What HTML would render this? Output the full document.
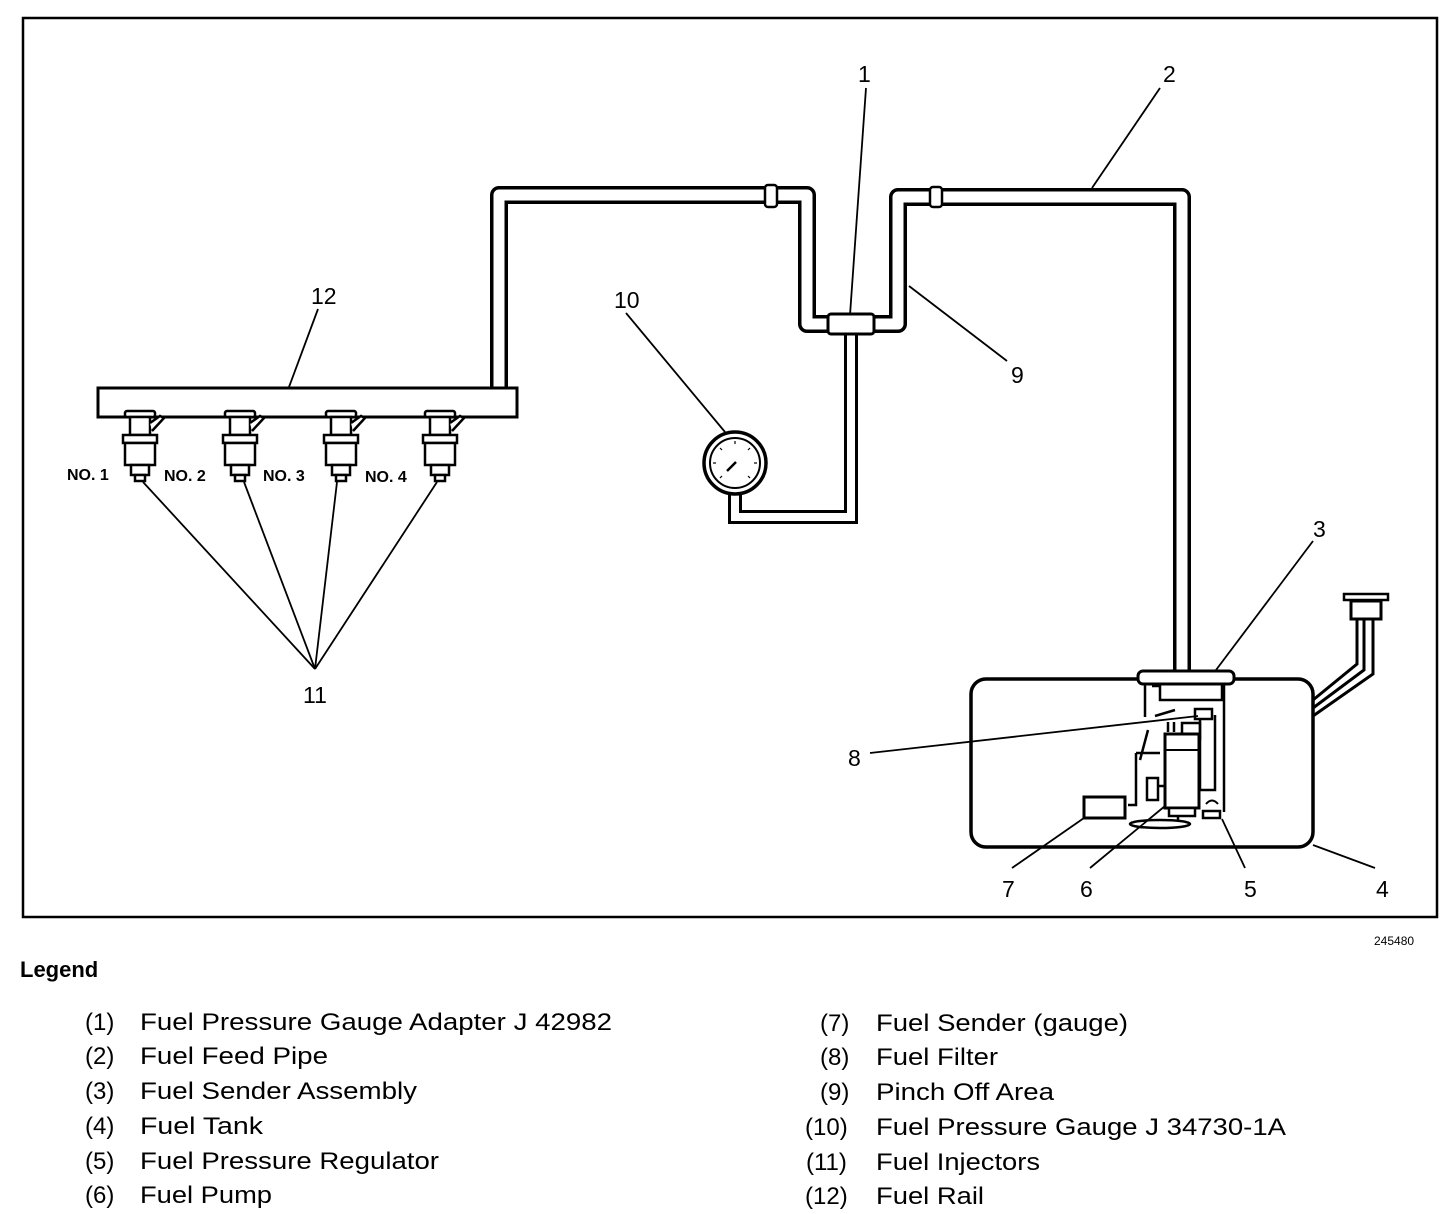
<!DOCTYPE html>
<html><head><meta charset="utf-8"><style>
html,body{margin:0;padding:0;background:#fff}
svg{display:block}
text{font-family:"Liberation Sans",Arial,sans-serif;fill:#000}
</style></head><body>
<svg width="1456" height="1214" viewBox="0 0 1456 1214" xmlns="http://www.w3.org/2000/svg">
<defs>
<g id="inj" fill="#fff" stroke="#000" stroke-width="2.5">
  <rect x="-15" y="-4" width="30" height="6" rx="2"/>
  <rect x="-10" y="2" width="20" height="18"/>
  <path d="M10 8 L20 1 L24 3 L12 16" />
  <rect x="-17" y="20" width="34" height="8"/>
  <rect x="-15" y="28" width="30" height="22"/>
  <rect x="-9" y="50" width="18" height="10"/>
  <rect x="-5" y="60" width="10" height="6"/>
</g>
</defs>
<rect x="23" y="18" width="1414" height="899" fill="none" stroke="#000" stroke-width="2.5"/>

<g fill="none" stroke-linejoin="round">
  <path d="M499 390 V195 H807 V324 H835 M870 324 H898 V197 H1182 V672" stroke="#000" stroke-width="18"/>
  <path d="M499 390 V195 H807 V324 H835 M870 324 H898 V197 H1182 V672" stroke="#fff" stroke-width="11"/>
  <path d="M851 334 V517 H735 V494" stroke="#000" stroke-width="14" stroke-linejoin="miter"/>
  <path d="M851 334 V517 H735 V494" stroke="#fff" stroke-width="8" stroke-linejoin="miter"/>
</g>
<rect x="765" y="185" width="12" height="22" rx="3" fill="#fff" stroke="#000" stroke-width="2.5"/>
<rect x="930" y="187" width="12" height="20" rx="3" fill="#fff" stroke="#000" stroke-width="2.5"/>
<rect x="828" y="314" width="46" height="20" rx="3" fill="#fff" stroke="#000" stroke-width="3"/>

<circle cx="735" cy="463" r="31" fill="#fff" stroke="#000" stroke-width="3.5"/>
<circle cx="735" cy="463" r="25" fill="#fff" stroke="#000" stroke-width="2"/>
<line x1="727" y1="471" x2="736" y2="462" stroke="#000" stroke-width="2.5"/>
<g stroke="#000" stroke-width="1.2">
<line x1="713" y1="463" x2="716" y2="463"/><line x1="757" y1="463" x2="754" y2="463"/>
<line x1="735" y1="441" x2="735" y2="444"/><line x1="720" y1="448" x2="722" y2="450"/>
<line x1="750" y1="448" x2="748" y2="450"/><line x1="720" y1="478" x2="722" y2="476"/>
<line x1="750" y1="478" x2="748" y2="476"/>
</g>

<rect x="98" y="388" width="419" height="29" fill="#fff" stroke="#000" stroke-width="3"/>
<use href="#inj" x="140" y="415"/>
<use href="#inj" x="240" y="415"/>
<use href="#inj" x="341" y="415"/>
<use href="#inj" x="440" y="415"/>
<g font-weight="bold" font-size="16">
<text x="67" y="480">NO. 1</text>
<text x="164" y="481">NO. 2</text>
<text x="263" y="481">NO. 3</text>
<text x="365" y="482">NO. 4</text>
</g>

<rect x="971" y="679" width="342" height="168" rx="15" fill="#fff" stroke="#000" stroke-width="3.5"/>
<g fill="none" stroke="#000" stroke-width="3">
  <path d="M1313 700 L1357 664 V617 M1313 708 L1364 670 V617 M1313 716 L1373 674 V617"/>
</g>
<rect x="1351" y="601" width="30" height="18" fill="#fff" stroke="#000" stroke-width="3"/>
<rect x="1344" y="594" width="44" height="6" fill="#fff" stroke="#000" stroke-width="2.5"/>
<rect x="1138" y="671" width="96" height="13" rx="5" fill="#fff" stroke="#000" stroke-width="3"/>
<g fill="none" stroke="#000" stroke-width="2.5">
  <path d="M1145 684 V717 M1224 684 V812 M1152 686 H1160 V700 H1222 V684"/>
  <path d="M1155 716 L1175 710 M1148 730 L1140 760 M1136 753 V805 H1128 M1136 753 H1160"/>
  <rect x="1195" y="709" width="17" height="10"/>
  <rect x="1182" y="723" width="18" height="16"/>
  <rect x="1147" y="778" width="11" height="22"/>
  <path d="M1158 786 H1165"/>
  <path d="M1200 719 V790 H1215 V715"/>
  <path d="M1168 732 V722 M1174 732 V722"/>
</g>
<rect x="1165" y="734" width="34" height="74" fill="#fff" stroke="#000" stroke-width="3"/>
<path d="M1165 750 H1199" stroke="#000" stroke-width="2"/>
<rect x="1169" y="808" width="26" height="8" fill="#fff" stroke="#000" stroke-width="2.5"/>
<rect x="1203" y="811" width="17" height="7" fill="#fff" stroke="#000" stroke-width="2.5"/>
<path d="M1206 804 Q1212 797 1218 804" fill="none" stroke="#000" stroke-width="2"/>
<ellipse cx="1160" cy="824" rx="30" ry="4" fill="none" stroke="#000" stroke-width="2.5"/>
<path d="M1178 816 V820" stroke="#000" stroke-width="2.5"/>
<rect x="1084" y="797" width="41" height="21" fill="#fff" stroke="#000" stroke-width="3"/>

<g stroke="#000" stroke-width="1.8" fill="none">
  <line x1="866" y1="88" x2="850" y2="315"/>
  <line x1="1160" y1="88" x2="1092" y2="188"/>
  <line x1="318" y1="309" x2="289" y2="387"/>
  <line x1="626" y1="313" x2="725" y2="432"/>
  <line x1="1007" y1="361" x2="909" y2="286"/>
  <line x1="1313" y1="541" x2="1216" y2="670"/>
  <line x1="870" y1="753" x2="1198" y2="716"/>
  <line x1="1012" y1="868" x2="1084" y2="818"/>
  <line x1="1090" y1="868" x2="1165" y2="806"/>
  <line x1="1245" y1="868" x2="1222" y2="819"/>
  <line x1="1375" y1="868" x2="1313" y2="845"/>
  <line x1="315" y1="669" x2="143" y2="482"/>
  <line x1="315" y1="669" x2="244" y2="482"/>
  <line x1="315" y1="669" x2="337" y2="482"/>
  <line x1="315" y1="669" x2="437" y2="482"/>
</g>

<g font-size="23">
<text x="858" y="82">1</text>
<text x="1163" y="82">2</text>
<text x="1313" y="537">3</text>
<text x="1376" y="897">4</text>
<text x="1244" y="897">5</text>
<text x="1080" y="897">6</text>
<text x="1002" y="897">7</text>
<text x="848" y="766">8</text>
<text x="1011" y="383">9</text>
<text x="614" y="308">10</text>
<text x="303" y="703">11</text>
<text x="311" y="304">12</text>
</g>
<text x="1374" y="945" font-size="12">245480</text>

<text x="20" y="977" font-size="22" font-weight="bold">Legend</text>
<g font-size="24">
<text x="85" y="1030">(1)</text><text x="140" y="1030" textLength="472" lengthAdjust="spacingAndGlyphs">Fuel Pressure Gauge Adapter J 42982</text>
<text x="85" y="1064">(2)</text><text x="140" y="1064" textLength="188" lengthAdjust="spacingAndGlyphs">Fuel Feed Pipe</text>
<text x="85" y="1099">(3)</text><text x="140" y="1099" textLength="277" lengthAdjust="spacingAndGlyphs">Fuel Sender Assembly</text>
<text x="85" y="1134">(4)</text><text x="140" y="1134" textLength="123" lengthAdjust="spacingAndGlyphs">Fuel Tank</text>
<text x="85" y="1169">(5)</text><text x="140" y="1169" textLength="299" lengthAdjust="spacingAndGlyphs">Fuel Pressure Regulator</text>
<text x="85" y="1203">(6)</text><text x="140" y="1203" textLength="132" lengthAdjust="spacingAndGlyphs">Fuel Pump</text>

<text x="820" y="1031">(7)</text><text x="876" y="1031" textLength="252" lengthAdjust="spacingAndGlyphs">Fuel Sender (gauge)</text>
<text x="820" y="1065">(8)</text><text x="876" y="1065" textLength="122" lengthAdjust="spacingAndGlyphs">Fuel Filter</text>
<text x="820" y="1100">(9)</text><text x="876" y="1100" textLength="178" lengthAdjust="spacingAndGlyphs">Pinch Off Area</text>
<text x="805" y="1135">(10)</text><text x="876" y="1135" textLength="410" lengthAdjust="spacingAndGlyphs">Fuel Pressure Gauge J 34730-1A</text>
<text x="806" y="1170">(11)</text><text x="876" y="1170" textLength="164" lengthAdjust="spacingAndGlyphs">Fuel Injectors</text>
<text x="805" y="1204">(12)</text><text x="876" y="1204" textLength="108" lengthAdjust="spacingAndGlyphs">Fuel Rail</text>
</g>
</svg>
</body></html>
